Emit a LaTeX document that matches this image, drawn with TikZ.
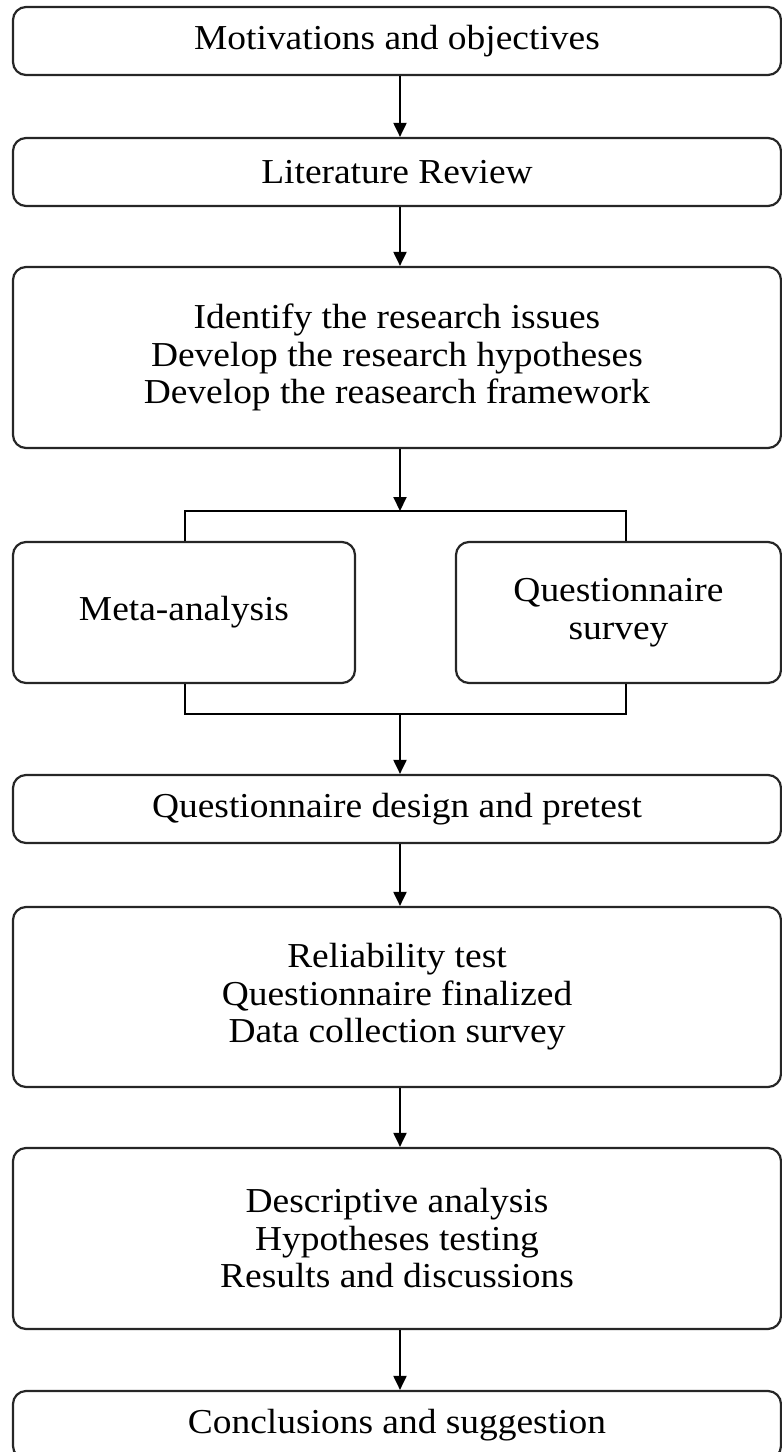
\documentclass[tikz,border=0pt]{standalone}
\usepackage{fontspec}
\setmainfont{Liberation Serif}[FakeStretch=1.07]
\usetikzlibrary{arrows.meta}
\tikzset{
 box/.style={draw=black!85, line width=1.1pt, rounded corners=6.5pt, inner sep=0pt, align=center, font=\fontsize{17.5}{18.75}\selectfont},
 wide/.style={minimum width=384pt},
 arr/.style={draw=black, line width=1pt, -{Triangle[length=7pt,width=6.5pt]}},
 brk/.style={draw=black, line width=1.3pt},
}
\begin{document}
\begin{tikzpicture}[x=0.5pt,y=-0.5pt]
\clip (0,0) rectangle (782,1452);
\node[box, wide, minimum height=34pt] (b1) at (397,41) {Motivations and objectives};
\node[box, wide, minimum height=34pt] (b2) at (397,172) {Literature Review};
\node[box, wide, minimum height=90.5pt] (b3) at (397,357.5) {Identify the research issues\\Develop the research hypotheses\\Develop the reasearch framework};
\node[box, minimum width=171pt, minimum height=70.5pt] (m) at (184,612.5) {Meta-analysis};
\node[box, minimum width=162.5pt, minimum height=70.5pt] (q) at (618.5,612.5) {Questionnaire\\survey};
\node[box, wide, minimum height=34pt] (b4) at (397,809) {Questionnaire design and pretest};
\node[box, wide, minimum height=90pt] (b5) at (397,997) {Reliability test\\Questionnaire finalized\\Data collection survey};
\node[box, wide, minimum height=90.5pt] (b6) at (397,1238.5) {Descriptive analysis\\Hypotheses testing\\Results and discussions};
\node[box, wide, minimum height=34pt] (b7) at (397,1425) {Conclusions and suggestion};
\coordinate (ax) at (400,0);
\coordinate (tl) at (185,511);
\coordinate (tr) at (626,511);
\coordinate (tm) at (400,511);
\coordinate (bl) at (185,714);
\coordinate (br) at (626,714);
\coordinate (bm) at (400,714);
\draw[arr] (b1.south -| ax) -- (b2.north -| ax);
\draw[arr] (b2.south -| ax) -- (b3.north -| ax);
\draw[arr] (b3.south -| ax) -- (tm);
\draw[brk] (m.north -| tl) -- (tl) -- (tr) -- (q.north -| tr);
\draw[brk] (m.south -| bl) -- (bl) -- (br) -- (q.south -| br);
\draw[arr] (bm) -- (b4.north -| ax);
\draw[arr] (b4.south -| ax) -- (b5.north -| ax);
\draw[arr] (b5.south -| ax) -- (b6.north -| ax);
\draw[arr] (b6.south -| ax) -- (b7.north -| ax);
\end{tikzpicture}
\end{document}
